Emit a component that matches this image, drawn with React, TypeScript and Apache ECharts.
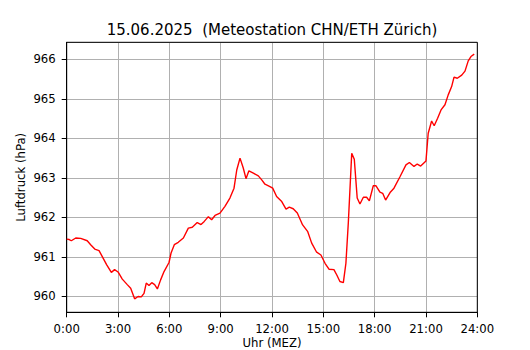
import React, { useEffect, useRef } from "react";
import * as echarts from "echarts";

const titleText = "15.06.2025  (Meteostation CHN/ETH Zürich)";
const xAxisName = "Uhr (MEZ)";
const yAxisName = "Luftdruck (hPa)";

// time of day in hours
const hours = [
  0.0, 0.15, 0.27, 0.53, 0.82, 1.2, 1.4, 1.64, 1.89, 2.08, 2.34, 2.61, 2.8, 3.0,
  3.25, 3.54, 3.74, 3.97, 4.17, 4.36, 4.52, 4.65, 4.81, 4.97, 5.14, 5.3, 5.49,
  5.69, 5.98, 6.1, 6.29, 6.52, 6.82, 7.11, 7.34, 7.63, 7.85, 8.04, 8.28, 8.47,
  8.67, 8.96, 9.25, 9.54, 9.78, 9.94, 10.13, 10.32, 10.48, 10.65, 10.91, 11.2,
  11.4, 11.59, 11.88, 12.04, 12.27, 12.57, 12.82, 13.01, 13.24, 13.48, 13.79,
  14.09, 14.32, 14.61, 14.86, 15.1, 15.33, 15.62, 15.78, 15.97, 16.17, 16.32,
  16.46, 16.66, 16.81, 16.98, 17.14, 17.34, 17.53, 17.69, 17.92, 18.08, 18.31,
  18.47, 18.64, 18.9, 19.13, 19.48, 19.83, 20.03, 20.3, 20.49, 20.69, 21.0,
  21.13, 21.33, 21.48, 21.68, 21.88, 22.11, 22.3, 22.5, 22.64, 22.83, 23.09,
  23.28, 23.47, 23.63, 23.82,
];

// air pressure in hPa
const pressure = [
  961.45, 961.44, 961.41, 961.48, 961.47, 961.41, 961.31, 961.2, 961.16, 961.01,
  960.8, 960.61, 960.68, 960.62, 960.44, 960.3, 960.21, 959.94, 960.0, 959.99,
  960.08, 960.34, 960.28, 960.35, 960.3, 960.19, 960.42, 960.63, 960.86, 961.1,
  961.31, 961.37, 961.48, 961.73, 961.75, 961.87, 961.82, 961.9, 962.02, 961.94,
  962.05, 962.11, 962.28, 962.49, 962.74, 963.2, 963.5, 963.25, 962.98, 963.18,
  963.12, 963.05, 962.95, 962.84, 962.78, 962.74, 962.53, 962.4, 962.21, 962.26,
  962.22, 962.11, 961.81, 961.64, 961.35, 961.12, 961.05, 960.84, 960.69, 960.68,
  960.55, 960.38, 960.35, 960.84, 961.86, 963.62, 963.47, 962.49, 962.34, 962.51,
  962.51, 962.42, 962.8, 962.8, 962.64, 962.61, 962.44, 962.63, 962.74, 963.03,
  963.33, 963.39, 963.29, 963.35, 963.3, 963.43, 964.13, 964.44, 964.32, 964.51,
  964.72, 964.85, 965.1, 965.31, 965.55, 965.52, 965.6, 965.7, 965.96, 966.07,
  966.13,
];

const xMin = 0;
const xMax = 24;
const xStep = 3;
const yMin = 959.6;
const yMax = 966.43;

const FONT = "DejaVu Sans";

export default function App() {
  const ref = useRef<HTMLDivElement>(null);

  useEffect(() => {
    if (!ref.current) return;
    const chart = echarts.init(ref.current, null, { renderer: "svg" });
    const data = hours.map((h, i) => [h, pressure[i]]);
    chart.setOption({
      animation: false,
      backgroundColor: "#ffffff",
      textStyle: { fontFamily: FONT },
      grid: {
        left: 66.7,
        right: 52.7,
        top: 42.3,
        bottom: 37.7,
        outerBoundsMode: "none",
        containLabel: false,
        show: true,
        borderColor: "#000000",
        borderWidth: 1,
        backgroundColor: "transparent",
        z: 3,
      },
      graphic: [
        {
          type: "text",
          x: 272,
          y: 30,
          z: 10,
          style: {
            text: titleText,
            font: `15px "${FONT}"`,
            fill: "#000000",
            textAlign: "center",
            textVerticalAlign: "middle",
          },
        },
      ],
      xAxis: {
        type: "value",
        min: xMin,
        max: xMax,
        interval: xStep,
        name: xAxisName,
        nameLocation: "middle",
        nameGap: 25,
        nameMoveOverlap: false,
        nameTextStyle: { fontFamily: FONT, fontSize: 11.7, color: "#000" },
        axisLine: { show: true, onZero: false, lineStyle: { color: "#000", width: 1 } },
        axisTick: { show: true, inside: false, length: 5, lineStyle: { color: "#000" } },
        axisLabel: {
          margin: 11,
          color: "#000",
          fontFamily: FONT,
          fontSize: 11.7,
          formatter: (v: number) => `${Math.round(v)}:00`,
        },
        splitLine: { show: true, lineStyle: { color: "#b0b0b0", width: 1 } },
      },
      yAxis: {
        type: "value",
        min: yMin,
        max: yMax,
        name: yAxisName,
        nameLocation: "middle",
        nameGap: 40,
        nameRotate: 90,
        nameMoveOverlap: false,
        nameTextStyle: { fontFamily: FONT, fontSize: 11.7, color: "#000" },
        axisLine: { show: true, onZero: false, lineStyle: { color: "#000", width: 1 } },
        axisTick: { show: true, inside: false, length: 5, lineStyle: { color: "#000" } },
        axisLabel: {
          margin: 11,
          color: "#000",
          fontFamily: FONT,
          fontSize: 11.7,
          showMinLabel: false,
          showMaxLabel: false,
          formatter: (v: number) =>
            Math.abs(v - Math.round(v)) < 1e-6 ? String(Math.round(v)) : "",
        },
        splitLine: { show: true, lineStyle: { color: "#b0b0b0", width: 1 } },
      },
      series: [
        {
          type: "line",
          data,
          showSymbol: false,
          symbol: "none",
          lineStyle: { color: "#ff0000", width: 1.4 },
          itemStyle: { color: "#ff0000" },
          z: 5,
        },
      ],
    });
    return () => chart.dispose();
  }, []);

  return (
    <div
      ref={ref}
      style={{
        position: "fixed",
        left: 0,
        top: 0,
        width: 530,
        height: 350,
        background: "#fff",
      }}
    />
  );
}
